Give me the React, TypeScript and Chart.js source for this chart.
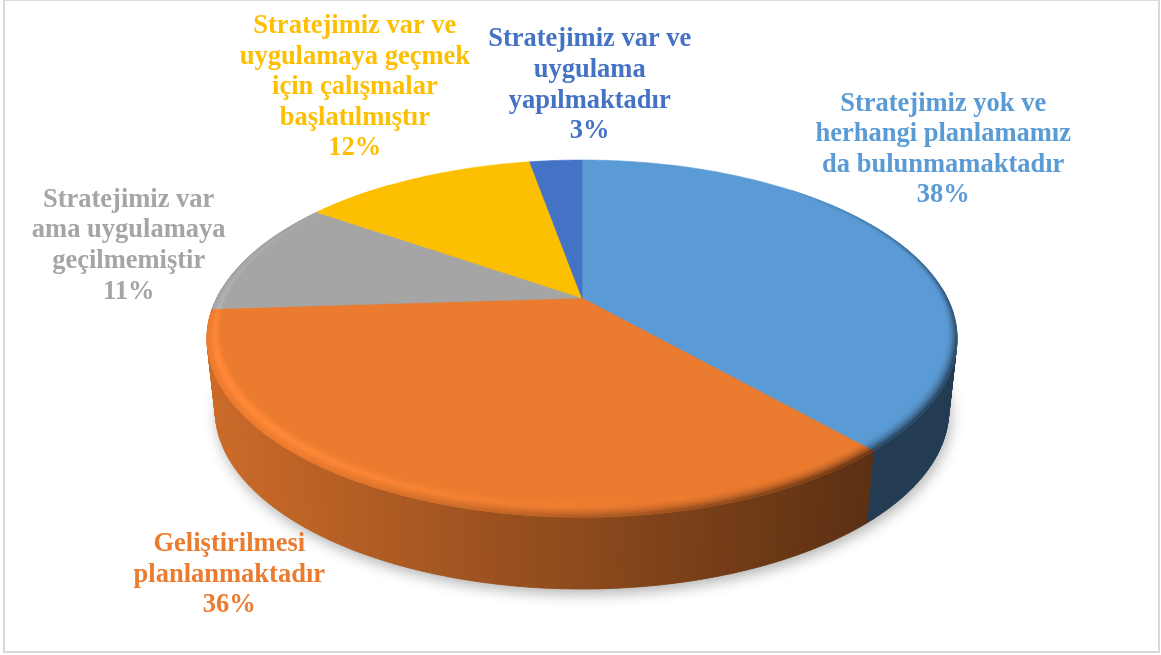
import React, { useEffect, useRef } from "react";
import { Chart, registerables } from "chart.js";

Chart.register(...registerables);

const categories: string[][] = [
  ["Stratejimiz yok ve", "herhangi planlamamız", "da bulunmamaktadır"],
  ["Geliştirilmesi", "planlanmaktadır"],
  ["Stratejimiz var", "ama uygulamaya", "geçilmemiştir"],
  ["Stratejimiz var ve", "uygulamaya geçmek", "için çalışmalar", "başlatılmıştır"],
  ["Stratejimiz var ve", "uygulama", "yapılmaktadır"],
];
const shares: number[] = [38.49, 35.51, 10.7, 12.49, 2.81];
const sliceColors: string[] = ["#5b9bd5", "#eb7b2f", "#a5a5a5", "#fdbf01", "#4472c4"];
const labelShift: [number, number][] = [[45, -93], [-176, 79], [-122, -9], [-62, -91], [34, -75]];

const VIEW = { cx: 582, cy: 298, a: 365.2, h: 169.3, k: 0.227, depth: 72, shrink: 0.978 };
const FONT = 'bold 26.5px "Liberation Serif"';
const LINE = 30.6;

const rgb = (hex: string) => [1, 3, 5].map((i) => parseInt(hex.slice(i, i + 2), 16));
const css = (c: number[]) => `rgb(${c.map((v) => Math.round(Math.min(255, v))).join(",")})`;
const mix = (a: number[], b: number[], t: number) => a.map((v, i) => v + (b[i] - v) * t);
const clamp = (v: number) => Math.max(0, Math.min(1, v));

function project(theta: number, r: number, onBase = false): [number, number] {
  const u = Math.cos(theta) * r;
  const v = Math.sin(theta) * r;
  const w = 1 - VIEW.k * v;
  const s = onBase ? VIEW.shrink : 1;
  return [VIEW.cx + (VIEW.a * u * s) / w, VIEW.cy + (VIEW.h * v) / w + (onBase ? VIEW.depth : 0)];
}

function sideFactor(x: number) {
  return 0.87 - 0.48 * clamp((x - 207) / (870 - 207));
}

function quad(ctx: CanvasRenderingContext2D, pts: [number, number][], color: string) {
  ctx.fillStyle = color;
  ctx.strokeStyle = color;
  ctx.lineWidth = 0.8;
  ctx.beginPath();
  pts.forEach((p, i) => (i ? ctx.lineTo(p[0], p[1]) : ctx.moveTo(p[0], p[1])));
  ctx.closePath();
  ctx.fill();
  ctx.stroke();
}

const perspectivePie = {
  id: "perspectivePie",
  beforeDraw(chart: any) {
    const { ctx, width, height } = chart;
    ctx.save();
    ctx.fillStyle = "#ffffff";
    ctx.fillRect(0, 0, width, height);
    ctx.strokeStyle = "#d9d9d9";
    ctx.lineWidth = 2;
    ctx.strokeRect(4, 0, width - 6, height - 3);
    ctx.restore();
  },
  beforeDatasetsDraw(chart: any) {
    const ctx: CanvasRenderingContext2D = chart.ctx;
    const arcs = chart.getDatasetMeta(0).data;
    const step = Math.PI / 240;
    ctx.save();

    // soft shadow under the base
    ctx.save();
    ctx.shadowColor = "rgba(0,0,0,0.3)";
    ctx.shadowBlur = 14;
    ctx.shadowOffsetX = 2;
    ctx.shadowOffsetY = 5;
    ctx.fillStyle = "#888888";
    ctx.beginPath();
    for (let t = 0; t < Math.PI * 2; t += step) {
      const p = project(t, 1, true);
      ctx.lineTo(p[0], p[1]);
    }
    ctx.closePath();
    ctx.fill();
    ctx.restore();

    // side wall
    arcs.forEach((arc: any, i: number) => {
      const base = rgb(sliceColors[i]);
      for (let t = arc.startAngle; t < arc.endAngle; t += step) {
        const e = Math.min(t + step, arc.endAngle);
        if (Math.sin(t) < -0.05 && Math.sin(e) < -0.05) continue;
        const a = project(t, 1);
        const b = project(e, 1);
        const c = project(e, 1, true);
        const d = project(t, 1, true);
        const f = sideFactor((a[0] + b[0]) / 2);
        quad(ctx, [a, b, c, d], css(base.map((v) => v * f)));
      }
    });

    // top face
    arcs.forEach((arc: any, i: number) => {
      const color = sliceColors[i];
      ctx.fillStyle = color;
      ctx.strokeStyle = color;
      ctx.lineWidth = 0.6;
      ctx.beginPath();
      ctx.moveTo(VIEW.cx, VIEW.cy);
      for (let t = arc.startAngle; t < arc.endAngle; t += step) {
        const p = project(t, 1);
        ctx.lineTo(p[0], p[1]);
      }
      const last = project(arc.endAngle, 1);
      ctx.lineTo(last[0], last[1]);
      ctx.closePath();
      ctx.fill();
      ctx.stroke();
    });

    // rounded rim: a lit streak on the left, a falling-off shade on the right
    arcs.forEach((arc: any, i: number) => {
      const base = rgb(sliceColors[i]);
      const bright = base.map((v) => v * 1.08 + 7);
      const strips = 10;
      for (let t = arc.startAngle; t < arc.endAngle; t += step) {
        const e = Math.min(t + step, arc.endAngle);
        const u = Math.cos(t);
        const v = Math.sin(t);
        const lit = Math.pow(clamp(-0.85 * u + 0.53 * v), 2.2);
        const shade = clamp(0.75 * u + 0.66 * v);
        if (lit <= 0.01 && shade <= 0.01) continue;
        const width = (th: number) => 0.03 + 0.035 * Math.max(0, Math.sin(th));
        for (let s = 0; s < strips; s++) {
          const q = (s + 0.5) / strips;
          const at = (th: number, f: number) => project(th, 1 - width(th) * (1 - f));
          const a = at(t, s / strips);
          const b = at(e, s / strips);
          const c = at(e, (s + 1) / strips);
          const d = at(t, (s + 1) / strips);
          const bump = Math.pow(clamp(1 - Math.abs(q - 0.5) / 0.5), 1.4);
          let col = mix(base, bright, lit * bump);
          const target = base.map((x) => x * sideFactor(a[0]));
          const ramp = clamp((q - 0.25) / 0.75);
          col = mix(col, target, shade * ramp * ramp);
          quad(ctx, [a, b, c, d], css(col));
        }
      }
    });
    ctx.restore();
    return false;
  },
  afterDraw(chart: any) {
    const ctx: CanvasRenderingContext2D = chart.ctx;
    const arcs = chart.getDatasetMeta(0).data;
    const total = shares.reduce((a, b) => a + b, 0);
    ctx.save();
    ctx.font = FONT;
    ctx.textAlign = "center";
    ctx.textBaseline = "middle";
    arcs.forEach((arc: any, i: number) => {
      const mid = project((arc.startAngle + arc.endAngle) / 2, 1);
      const lines = [...categories[i], `${Math.round((shares[i] / total) * 100)}%`];
      const x = mid[0] + labelShift[i][0];
      const y = mid[1] + labelShift[i][1] - ((lines.length - 1) * LINE) / 2;
      ctx.fillStyle = sliceColors[i];
      lines.forEach((line, n) => ctx.fillText(line, x, y + n * LINE));
    });
    ctx.restore();
  },
};

export default function App() {
  const ref = useRef<HTMLCanvasElement>(null);
  useEffect(() => {
    if (!ref.current) return;
    const chart = new Chart(ref.current, {
      type: "pie",
      data: {
        labels: categories.map((c) => c.join(" ")),
        datasets: [{ data: shares, backgroundColor: sliceColors, borderWidth: 0 }],
      },
      options: {
        animation: false,
        responsive: false,
        plugins: { legend: { display: false }, tooltip: { enabled: false } },
      },
      plugins: [perspectivePie],
    } as any);
    return () => chart.destroy();
  }, []);
  return (
    <div style={{ position: "fixed", left: 0, top: 0, width: 1161, height: 655 }}>
      <canvas ref={ref} width={1161} height={655} style={{ display: "block", width: 1161, height: 655 }} />
    </div>
  );
}
